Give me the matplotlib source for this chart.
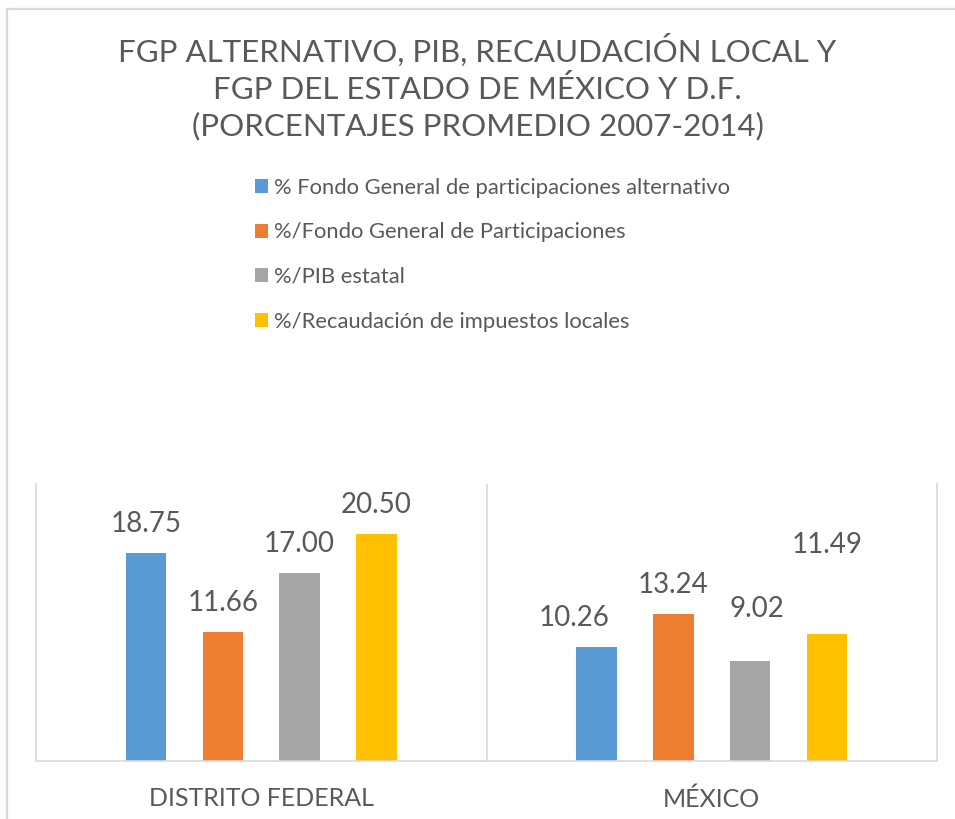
"""FGP alternativo, PIB, recaudación local y FGP — Estado de México y D.F."""
import matplotlib
matplotlib.use("Agg")
import matplotlib.pyplot as plt
from matplotlib.lines import Line2D
import numpy as np

plt.rcParams["font.family"] = ["Lato", "DejaVu Sans"]

CATEGORIES = ["DISTRITO FEDERAL", "MÉXICO"]
SERIES = [
    "% Fondo General de participaciones alternativo",
    "%/Fondo General de Participaciones",
    "%/PIB estatal",
    "%/Recaudación de impuestos locales",
]
FGP_ALT = [18.75, 10.26]
FGP = [11.66, 13.24]
PIB = [17.00, 9.02]
RECAUDACION = [20.50, 11.49]
VALUES = [FGP_ALT, FGP, PIB, RECAUDACION]

COLORS = ["#5B9BD5", "#ED7D31", "#A5A5A5", "#FFC000"]
TEXT = "#595959"
GRID = "#D9D9D9"

# label nudges (pixels) where the original had labels dragged around
LABEL_NUDGE = {(0, 1): (-22, 0), (2, 1): (7, 23), (3, 1): (0, 60)}

fig = plt.figure(figsize=(9.55, 8.19), dpi=100)
W, H = 955, 819
ax = fig.add_axes([36 / W, (H - 760.7) / H, (937 - 36) / W, (760.7 - 484) / H])

x = np.arange(len(CATEGORIES))
step, width = 0.1705, 0.09
for i, (vals, col, name) in enumerate(zip(VALUES, COLORS, SERIES)):
    xs = x + (i - 1.5) * step
    bars = ax.bar(xs, vals, width=width, color=col, label=name, zorder=2)
    for j, b in enumerate(bars):
        dx, dy = LABEL_NUDGE.get((i, j), (0, 0))
        ax.annotate(f"{vals[j]:.2f}", (b.get_x() + b.get_width() / 2, b.get_height()),
                    xytext=(dx * 0.72, (29 + dy) * 0.72), textcoords="offset points",
                    ha="center", va="center", fontsize=20, color=TEXT)

ax.set_xlim(-0.5, 1.5)
ax.set_ylim(0, 25)
ax.set_yticks([])
ax.set_xticks(x, CATEGORIES)
ax.tick_params(axis="x", length=0, pad=19, labelsize=18, labelcolor=TEXT)
ax.spines["top"].set_visible(False)
for s in ("left", "right", "bottom"):
    ax.spines[s].set_color(GRID)
    ax.spines[s].set_linewidth(1.2)
ax.axvline(0.5, color=GRID, lw=1.2, zorder=1)

fig.text(0.5, 1 - 87 / H,
         "FGP ALTERNATIVO, PIB, RECAUDACIÓN LOCAL Y\nFGP DEL ESTADO DE MÉXICO Y D.F.\n"
         "(PORCENTAJES PROMEDIO 2007-2014)",
         ha="center", va="center", fontsize=22.5, color=TEXT, linespacing=1.33)

fig.legend(loc="upper left", bbox_to_anchor=(246 / W, 1 - 169 / H), frameon=False,
           fontsize=15.8, labelcolor=TEXT, handlelength=0.62, handleheight=0.62,
           handletextpad=0.25, labelspacing=1.12, borderaxespad=0)

# outer chart frame (only top/left edges survive the crop)
fig.add_artist(Line2D([7 / W, 7 / W], [0, 1 - 9 / H], color=GRID, lw=1.6))
fig.add_artist(Line2D([7 / W, 1], [1 - 9 / H, 1 - 9 / H], color=GRID, lw=1.6))

fig.savefig("out.png", dpi=100)
